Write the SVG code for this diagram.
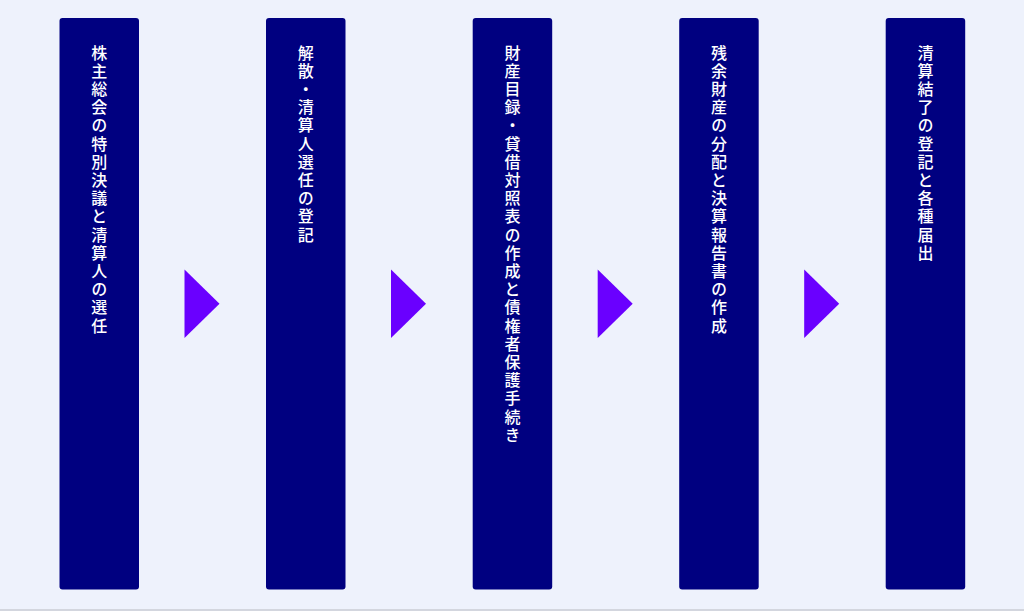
<svg xmlns="http://www.w3.org/2000/svg" width="1024" height="611" viewBox="0 0 1024 611">
<defs>
<style>
.bg{fill:#EEF2FC}
.box{fill:#000080}
.arr{fill:#6A00FF}
.t{fill:#FFFFFF;font-family:"Noto Sans CJK JP","Noto Sans CJK SC",sans-serif;font-size:16px;font-weight:500;writing-mode:vertical-rl;letter-spacing:2.2px}
</style>
</defs>
<rect class="bg" x="0" y="0" width="1024" height="611"/>
<rect x="0" y="609" width="1024" height="2" fill="#D3D6DE"/>
<g id="step1"><rect class="box" x="59.5" y="18" width="79.5" height="571.5" rx="3"/><text class="t" x="99.3" y="44.5">株主総会の特別決議と清算人の選任</text></g>
<g id="step2"><rect class="box" x="266" y="18" width="79.5" height="571.5" rx="3"/><text class="t" x="305.8" y="44.5">解散・清算人選任の登記</text></g>
<g id="step3"><rect class="box" x="472.7" y="18" width="79.5" height="571.5" rx="3"/><text class="t" x="512.4" y="44.5">財産目録・貸借対照表の作成と債権者保護手続き</text></g>
<g id="step4"><rect class="box" x="679.2" y="18" width="79.5" height="571.5" rx="3"/><text class="t" x="719" y="44.5">残余財産の分配と決算報告書の作成</text></g>
<g id="step5"><rect class="box" x="885.7" y="18" width="79.5" height="571.5" rx="3"/><text class="t" x="925.5" y="44.5">清算結了の登記と各種届出</text></g>
<g id="connectors">
<polygon class="arr" points="184.5,269.5 219.5,303.8 184.5,338"/>
<polygon class="arr" points="391,269.5 426,303.8 391,338"/>
<polygon class="arr" points="597.7,269.5 632.7,303.8 597.7,338"/>
<polygon class="arr" points="804.2,269.5 839.2,303.8 804.2,338"/>
</g>
</svg>
